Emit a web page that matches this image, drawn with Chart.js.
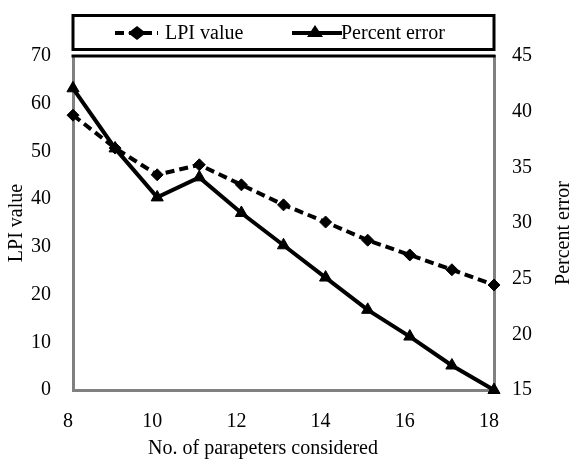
<!DOCTYPE html>
<html>
<head>
<meta charset="utf-8">
<script src="https://cdn.jsdelivr.net/npm/chart.js@4/dist/chart.umd.min.js"></script>
<style>
  html, body { margin: 0; padding: 0; background: #ffffff; }
  #wrap { width: 573px; height: 460px; position: relative; }
</style>
</head>
<body>
<div id="wrap"><canvas id="c" width="573" height="460"></canvas></div>
<script>
// ---- data ----
const parameters = [8, 9, 10, 11, 12, 13, 14, 15, 16, 17, 18];
const lpiValue = [57.6, 50.7, 45.1, 47.2, 43.0, 38.8, 35.2, 31.4, 28.3, 25.2, 22.0];
const percentError = [42.1, 36.7, 32.3, 34.1, 30.9, 28.0, 25.1, 22.2, 19.8, 17.2, 15.0];
const seriesNames = ['LPI value', 'Percent error'];
const xTitle = 'No. of parapeters considered';
const yLeftTitle = 'LPI value';
const yRightTitle = 'Percent error';

const FONT = 'Liberation Serif';
const fontSpec = { family: FONT, size: 20 };

const legendAndFrame = {
  id: 'legendAndFrame',
  afterDraw(chart) {
    const ctx = chart.ctx;
    const a = chart.chartArea;
    ctx.save();
    // black top border of plot
    ctx.strokeStyle = '#000';
    ctx.lineWidth = 3;
    ctx.beginPath();
    ctx.moveTo(a.left - 1.5, a.top);
    ctx.lineTo(a.right + 1.5, a.top);
    ctx.stroke();
    // legend box
    ctx.strokeRect(a.left, 15.5, a.right - a.left, 34);
    const ly = 33;
    // LPI sample: dashed line + diamond
    ctx.lineWidth = 4;
    ctx.setLineDash([9, 5]);
    ctx.beginPath();
    ctx.moveTo(115, ly); ctx.lineTo(158, ly);
    ctx.stroke();
    ctx.setLineDash([]);
    ctx.fillStyle = '#000';
    ctx.beginPath();
    ctx.moveTo(137, ly - 7); ctx.lineTo(146, ly); ctx.lineTo(137, ly + 7); ctx.lineTo(128, ly);
    ctx.closePath(); ctx.fill();
    // Percent sample: solid line + triangle
    ctx.beginPath();
    ctx.moveTo(292, ly); ctx.lineTo(342, ly);
    ctx.stroke();
    ctx.beginPath();
    ctx.moveTo(315, ly - 8); ctx.lineTo(323, ly + 4); ctx.lineTo(307, ly + 4);
    ctx.closePath(); ctx.fill();
    // legend text
    ctx.font = '20px "' + FONT + '"';
    ctx.textBaseline = 'middle';
    ctx.textAlign = 'left';
    ctx.fillText(seriesNames[0], 165, ly + 1);
    ctx.fillText(seriesNames[1], 341, ly + 1);
    // x axis title
    ctx.textAlign = 'center';
    ctx.fillText(xTitle, 263, 449);
    // right axis title reading bottom-to-top
    ctx.translate(564, (a.top + a.bottom) / 2 + 10);
    ctx.rotate(-Math.PI / 2);
    ctx.fillText(yRightTitle, 0, 0);
    ctx.restore();
  }
};

new Chart(document.getElementById('c'), {
  type: 'line',
  data: {
    datasets: [
      {
        label: seriesNames[0],
        data: parameters.map((p, i) => ({ x: p, y: lpiValue[i] })),
        yAxisID: 'y',
        borderColor: '#000',
        backgroundColor: '#000',
        borderWidth: 4,
        borderDash: [9, 5],
        pointStyle: 'rectRot',
        pointRadius: 6,
        pointBorderWidth: 1,
        tension: 0,
        clip: false
      },
      {
        label: seriesNames[1],
        data: parameters.map((p, i) => ({ x: p, y: percentError[i] })),
        yAxisID: 'y1',
        borderColor: '#000',
        backgroundColor: '#000',
        borderWidth: 4,
        pointStyle: 'triangle',
        pointRadius: 7,
        pointBorderWidth: 1,
        tension: 0,
        clip: false
      }
    ]
  },
  options: {
    responsive: false,
    animation: false,
    layout: { padding: { top: 56, left: 0, right: 0, bottom: 0 } },
    plugins: { legend: { display: false }, tooltip: { enabled: false } },
    scales: {
      x: {
        type: 'linear',
        min: 8, max: 18,
        grid: { display: false, drawTicks: false },
        border: { display: true, color: '#808080', width: 3 },
        ticks: { stepSize: 2, color: '#000', font: fontSpec, padding: 20, labelOffset: -5 },
        title: { display: false },
        afterFit(s) { s.height = 70; }
      },
      y: {
        position: 'left',
        min: 0, max: 70,
        grid: { display: false, drawTicks: false },
        border: { display: true, color: '#808080', width: 3 },
        ticks: { stepSize: 10, color: '#000', font: fontSpec, padding: 22 },
        title: { display: true, text: yLeftTitle, color: '#000', font: fontSpec, padding: { top: 5, bottom: 0 } },
        afterFit(s) { s.width = 73; }
      },
      y1: {
        position: 'right',
        min: 15, max: 45,
        grid: { display: false, drawTicks: false },
        border: { display: true, color: '#808080', width: 3 },
        ticks: { stepSize: 5, color: '#000', font: fontSpec, padding: 18 },
        afterFit(s) { s.width = 79; }
      }
    }
  },
  plugins: [legendAndFrame]
});
</script>
</body>
</html>
